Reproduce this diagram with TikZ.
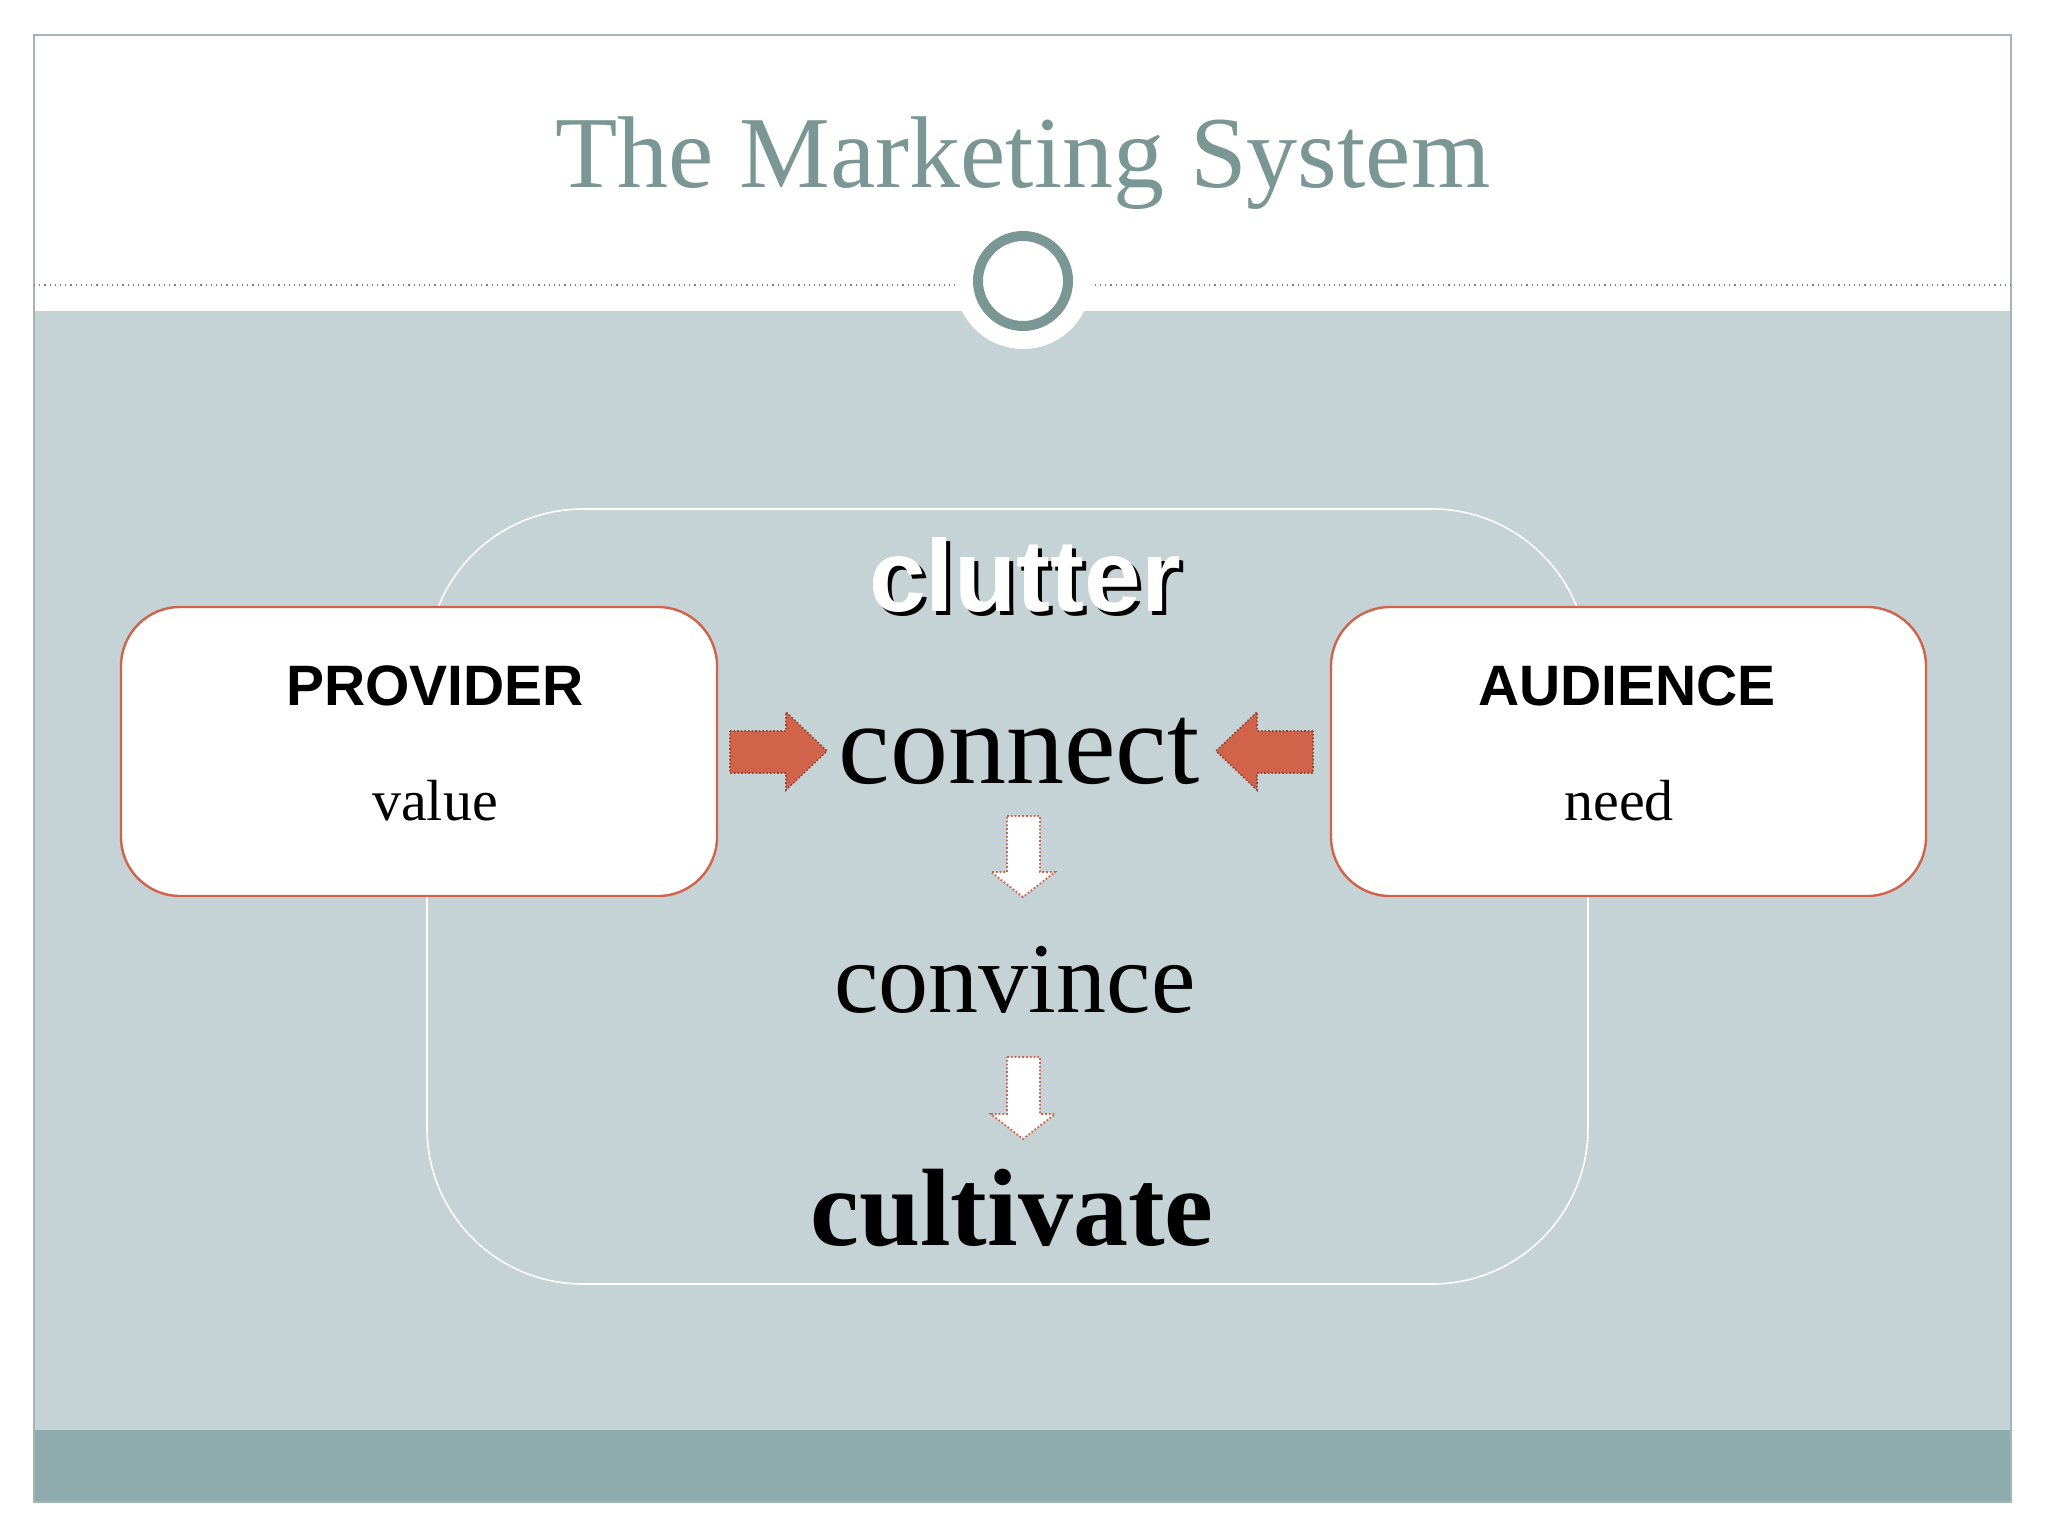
\documentclass[tikz,border=0pt]{standalone}
\usepackage{fontspec}
\setmainfont{Liberation Serif}
\newfontfamily\sansf{Liberation Sans}
\definecolor{bgc}{HTML}{C5D2D6}
\definecolor{band}{HTML}{8EACAE}
\definecolor{ttl}{HTML}{7A9795}
\definecolor{orn}{HTML}{D0634A}
\begin{document}
\begin{tikzpicture}[x=0.5pt,y=-0.5pt,
  box/.style={draw=orn,line width=1.2pt,fill=white,rounded corners=29.5pt},
  arr/.style={fill=orn,draw=orn!70!black,densely dotted,line width=0.8pt},
  darr/.style={fill=white,draw=orn,densely dotted,line width=0.9pt}]
\useasboundingbox (0,0) rectangle (2048,1536);
\fill[white] (0,0) rectangle (2048,1536);
\fill[bgc] (34,311) rectangle (2011,1430);
\fill[band] (34,1430) rectangle (2011,1502);
\draw[ttl!70,line width=0.6pt] (34,35) rectangle (2011,1502);
\draw[gray,dotted,line width=0.6pt] (34,285) -- (2011,285);
\node[circle,fill=white,minimum size=68pt,inner sep=0] (halo) at (1023,281) {};
\node[circle,draw=ttl,line width=5pt,minimum size=45pt,inner sep=0] (ring) at (1023,281) {};
\node[text=ttl,font=\fontsize{51}{52}\selectfont] (title) at (1023,163) {The Marketing System};
\draw[white,line width=0.8pt,rounded corners=78pt] (427,509) rectangle (1588,1284);
\draw[box] (121,607) rectangle (717,896);
\draw[box] (1331,607) rectangle (1926,896);
\node[font=\sansf\bfseries\fontsize{28.5}{29}\selectfont] (prov) at (435,686) {PROVIDER};
\node[font=\fontsize{29}{30}\selectfont] (val) at (435,801) {value};
\node[font=\sansf\bfseries\fontsize{28.5}{29}\selectfont] (aud) at (1627,686) {AUDIENCE};
\node[font=\fontsize{29}{30}\selectfont] (need) at (1619,801) {need};
\node[font=\sansf\bfseries\fontsize{51}{52}\selectfont,text=black] (clsh) at (1029,579) {clutter};
\node[font=\sansf\bfseries\fontsize{51}{52}\selectfont,text=white] (clutter) at (1025,575) {clutter};
\node[font=\fontsize{58}{58}\selectfont] (connect) at (1019,751) {connect};
\node[font=\fontsize{50}{50}\selectfont] (convince) at (1015,980) {convince};
\node[font=\bfseries\fontsize{55}{55}\selectfont] (cultivate) at (1012,1208) {cultivate};
\draw[arr] (730,731) -- (786,731) -- (786,712) -- (827,751) -- (786,790) -- (786,773) -- (730,773) -- cycle;
\draw[arr] (1313,731) -- (1257,731) -- (1257,712) -- (1216,751) -- (1257,790) -- (1257,773) -- (1313,773) -- cycle;
\draw[darr] (1007,816) -- (1040,816) -- (1040,872) -- (1055,872) -- (1023,897) -- (991,872) -- (1007,872) -- cycle;
\draw[darr] (1007,1057) -- (1040,1057) -- (1040,1114) -- (1055,1114) -- (1023,1139) -- (991,1114) -- (1007,1114) -- cycle;
\end{tikzpicture}
\end{document}
